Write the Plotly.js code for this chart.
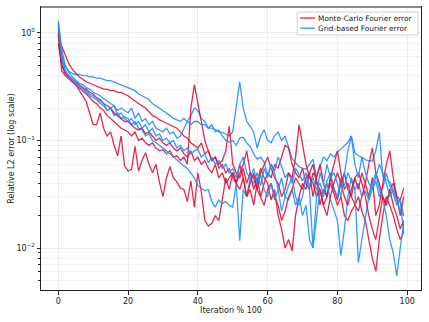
<!DOCTYPE html>
<html>
<head>
<meta charset="utf-8">
<script src="https://cdn.plot.ly/plotly-3.0.1.min.js"></script>
<style>
  html, body { margin: 0; padding: 0; background: #fff; }
  #chart { width: 429px; height: 322px; }
</style>
</head>
<body>
<div id="chart"></div>
<script>
// iteration index (x axis)
const iterations = Array.from({ length: 100 }, (_, i) => i);

// Monte-Carlo Fourier error runs
const mcRun1 = [0.96,0.44,0.40,0.37,0.35,0.33,0.29,0.26,0.23,0.18,
  0.14,0.14,0.18,0.13,0.11,0.12,0.09,0.072,0.11,0.058,
  0.052,0.054,0.088,0.052,0.065,0.077,0.06,0.05,0.06,0.041,
  0.03,0.045,0.057,0.045,0.041,0.036,0.035,0.027,0.042,0.024,
  0.05,0.033,0.018,0.016,0.017,0.02,0.018,0.028,0.045,0.035,
  0.05,0.04,0.06,0.045,0.03,0.035,0.025,0.04,0.055,0.045,
  0.04,0.028,0.035,0.02,0.015,0.01,0.012,0.0094,0.02,0.03,
  0.04,0.035,0.05,0.03,0.045,0.025,0.035,0.03,0.04,0.032,
  0.025,0.03,0.02,0.018,0.022,0.025,0.03,0.022,0.018,0.012,
  0.008,0.0061,0.012,0.02,0.03,0.025,0.02,0.015,0.012,0.014];
const mcRun2 = [0.9,0.75,0.62,0.52,0.46,0.42,0.39,0.37,0.35,0.34,
  0.33,0.32,0.31,0.30,0.30,0.29,0.29,0.28,0.28,0.27,
  0.26,0.245,0.23,0.22,0.21,0.2,0.185,0.17,0.165,0.155,
  0.15,0.145,0.14,0.135,0.13,0.12,0.11,0.105,0.095,0.09,
  0.085,0.095,0.075,0.08,0.065,0.07,0.06,0.065,0.08,0.135,
  0.06,0.05,0.045,0.055,0.04,0.05,0.035,0.045,0.03,0.04,
  0.05,0.045,0.06,0.055,0.07,0.09,0.085,0.06,0.05,0.045,
  0.055,0.04,0.035,0.05,0.045,0.06,0.04,0.03,0.045,0.035,
  0.028,0.04,0.05,0.035,0.03,0.025,0.022,0.03,0.04,0.06,
  0.085,0.05,0.04,0.03,0.025,0.035,0.04,0.03,0.028,0.036];
const mcRun3 = [0.8,0.5,0.42,0.38,0.35,0.33,0.31,0.29,0.27,0.25,
  0.23,0.22,0.2,0.19,0.17,0.16,0.15,0.14,0.13,0.125,
  0.12,0.11,0.12,0.1,0.105,0.095,0.09,0.095,0.085,0.08,
  0.082,0.075,0.08,0.07,0.072,0.065,0.07,0.06,0.2,0.33,
  0.22,0.16,0.1,0.08,0.065,0.07,0.055,0.06,0.05,0.055,
  0.045,0.04,0.05,0.06,0.08,0.05,0.045,0.035,0.05,0.06,
  0.07,0.055,0.045,0.04,0.03,0.035,0.05,0.045,0.07,0.14,
  0.09,0.06,0.045,0.04,0.03,0.035,0.025,0.03,0.045,0.06,
  0.08,0.05,0.035,0.04,0.03,0.045,0.035,0.05,0.04,0.03,
  0.045,0.02,0.025,0.04,0.06,0.08,0.045,0.03,0.02,0.03];
const mcRun4 = [1.0,0.5,0.42,0.39,0.37,0.35,0.33,0.31,0.3,0.28,
  0.27,0.25,0.24,0.22,0.21,0.2,0.18,0.17,0.16,0.15,
  0.15,0.14,0.13,0.125,0.13,0.115,0.12,0.11,0.1,0.105,
  0.095,0.09,0.095,0.085,0.08,0.085,0.075,0.07,0.08,0.065,
  0.07,0.06,0.065,0.055,0.05,0.06,0.045,0.05,0.04,0.045,
  0.05,0.04,0.035,0.045,0.03,0.04,0.05,0.035,0.03,0.025,
  0.035,0.04,0.03,0.025,0.018,0.022,0.03,0.035,0.045,0.04,
  0.035,0.045,0.05,0.06,0.04,0.035,0.025,0.02,0.03,0.04,
  0.05,0.04,0.03,0.025,0.035,0.045,0.05,0.04,0.03,0.02,
  0.015,0.012,0.02,0.03,0.025,0.035,0.025,0.02,0.015,0.018];

// Grid-based Fourier error runs
const gridRun1 = [1.25,0.62,0.48,0.44,0.42,0.41,0.41,0.40,0.40,0.39,
  0.39,0.38,0.38,0.37,0.36,0.36,0.35,0.34,0.33,0.32,
  0.31,0.30,0.29,0.27,0.26,0.25,0.24,0.22,0.21,0.20,
  0.19,0.18,0.17,0.16,0.155,0.15,0.16,0.15,0.14,0.15,
  0.15,0.14,0.14,0.13,0.13,0.126,0.12,0.119,0.115,0.11,
  0.12,0.2,0.35,0.2,0.15,0.135,0.12,0.085,0.11,0.126,
  0.10,0.095,0.11,0.12,0.10,0.11,0.085,0.068,0.062,0.057,
  0.055,0.054,0.06,0.067,0.046,0.058,0.07,0.065,0.075,0.07,
  0.078,0.083,0.09,0.096,0.11,0.077,0.072,0.07,0.066,0.065,
  0.064,0.08,0.119,0.046,0.043,0.041,0.035,0.028,0.027,0.014];
const gridRun2 = [1.3,0.7,0.5,0.43,0.39,0.36,0.34,0.33,0.31,0.30,
  0.28,0.27,0.26,0.245,0.23,0.22,0.21,0.19,0.20,0.19,
  0.18,0.20,0.16,0.18,0.15,0.16,0.14,0.15,0.13,0.125,
  0.12,0.13,0.115,0.12,0.105,0.11,0.13,0.15,0.17,0.20,
  0.19,0.16,0.15,0.13,0.14,0.12,0.125,0.11,0.10,0.096,
  0.10,0.09,0.105,0.107,0.095,0.088,0.075,0.067,0.07,0.063,
  0.047,0.06,0.052,0.07,0.058,0.045,0.05,0.04,0.055,0.048,
  0.042,0.05,0.038,0.045,0.035,0.04,0.032,0.042,0.05,0.036,
  0.03,0.045,0.038,0.05,0.042,0.035,0.04,0.03,0.034,0.028,
  0.035,0.042,0.03,0.036,0.05,0.038,0.032,0.025,0.028,0.02];
const gridRun3 = [1.1,0.55,0.42,0.38,0.36,0.34,0.32,0.30,0.28,0.26,
  0.25,0.24,0.22,0.21,0.19,0.2,0.17,0.18,0.16,0.165,
  0.16,0.14,0.15,0.13,0.125,0.11,0.115,0.10,0.095,0.09,
  0.085,0.08,0.075,0.07,0.066,0.062,0.058,0.055,0.05,0.045,
  0.038,0.036,0.034,0.035,0.027,0.024,0.028,0.026,0.027,0.025,
  0.024,0.04,0.0117,0.035,0.03,0.045,0.04,0.05,0.038,0.055,
  0.045,0.06,0.05,0.035,0.045,0.03,0.028,0.035,0.025,0.03,
  0.02,0.025,0.012,0.01,0.018,0.035,0.03,0.04,0.028,0.022,
  0.018,0.0085,0.015,0.03,0.045,0.035,0.0073,0.012,0.02,0.03,
  0.04,0.05,0.035,0.028,0.02,0.012,0.009,0.0055,0.01,0.017];
const gridRun4 = [1.2,0.6,0.45,0.40,0.37,0.35,0.33,0.31,0.29,0.27,
  0.26,0.25,0.23,0.22,0.19,0.2,0.21,0.17,0.18,0.16,
  0.15,0.16,0.14,0.15,0.13,0.14,0.12,0.13,0.11,0.115,
  0.10,0.105,0.095,0.10,0.085,0.09,0.08,0.085,0.075,0.08,
  0.083,0.07,0.075,0.062,0.07,0.06,0.065,0.055,0.06,0.05,
  0.055,0.045,0.06,0.07,0.05,0.045,0.055,0.04,0.048,0.035,
  0.03,0.04,0.028,0.035,0.022,0.03,0.038,0.045,0.03,0.025,
  0.03,0.045,0.035,0.01,0.03,0.05,0.04,0.06,0.045,0.05,
  0.04,0.03,0.05,0.08,0.11,0.06,0.045,0.07,0.05,0.04,
  0.035,0.045,0.06,0.05,0.04,0.03,0.035,0.028,0.022,0.02];

const mcRuns = [mcRun1, mcRun2, mcRun3, mcRun4];
const gridRuns = [gridRun1, gridRun2, gridRun3, gridRun4];
const seriesNames = ['Monte-Carlo Fourier error', 'Grid-based Fourier error'];

const MC_COLOR = '#DC143C';
const GRID_COLOR = '#1E90FF';
const FONT = 'DejaVu Sans, sans-serif';
const TEXT_COLOR = '#222';

const traces = [];
mcRuns.forEach((run, i) => {
    traces.push({
        type: 'scatter', mode: 'lines', x: iterations, y: run,
        name: seriesNames[0], showlegend: false, opacity: 0.9,
        line: { color: MC_COLOR, width: 1.3 },
    });
    traces.push({
        type: 'scatter', mode: 'lines', x: iterations, y: gridRuns[i],
        name: seriesNames[1], showlegend: false, opacity: 0.9,
        line: { color: GRID_COLOR, width: 1.3 },
    });
});

const minorVals = [];
[0.001, 0.01, 0.1].forEach(d => {
    for (let k = 2; k <= 9; k += 1) minorVals.push(d * k);
});

// compact matplotlib-like legend box (plotly's own legend rows are too tall here)
const legendBox = { x0: 0.674, x1: 0.992, y0: 0.901, y1: 0.982 };
const legendRows = [
    { name: seriesNames[0], color: MC_COLOR, y: 0.961 },
    { name: seriesNames[1], color: GRID_COLOR, y: 0.925 },
];
const legendShapes = [{
    type: 'rect', xref: 'paper', yref: 'paper',
    x0: legendBox.x0, x1: legendBox.x1, y0: legendBox.y0, y1: legendBox.y1,
    fillcolor: 'rgba(255,255,255,0.85)', line: { color: '#d0d0d0', width: 1 },
}];
const legendAnnotations = [];
legendRows.forEach(row => {
    legendShapes.push({
        type: 'line', xref: 'paper', yref: 'paper',
        x0: 0.682, x1: 0.721, y0: row.y, y1: row.y,
        line: { color: row.color, width: 1.6 }, opacity: 0.75,
    });
    legendAnnotations.push({
        xref: 'paper', yref: 'paper', x: 0.726, y: row.y,
        xanchor: 'left', yanchor: 'middle', showarrow: false, borderpad: 0,
        text: row.name, font: { family: FONT, size: 7.4, color: TEXT_COLOR },
    });
});

const layout = {
    width: 429,
    height: 322,
    margin: { l: 41, r: 8, t: 7, b: 32 },
    paper_bgcolor: '#fff',
    plot_bgcolor: '#fff',
    font: { family: FONT, size: 8, color: TEXT_COLOR },
    showlegend: false,
    xaxis: {
        range: [-4.95, 103.95],
        tickvals: [0, 20, 40, 60, 80, 100],
        ticks: 'outside', ticklen: 3.5, tickcolor: TEXT_COLOR,
        showline: true, linecolor: TEXT_COLOR, linewidth: 1, mirror: true,
        showgrid: true, gridcolor: '#ececec', gridwidth: 1,
        zeroline: false,
        tickfont: { family: FONT, size: 8, color: TEXT_COLOR },
        title: { text: 'Iteration % 100', font: { family: FONT, size: 8, color: TEXT_COLOR }, standoff: 1 },
    },
    yaxis: {
        type: 'log',
        range: [-2.39, 0.24],
        tickvals: [0.01, 0.1, 1],
        ticktext: ['10<sup>\u22122</sup>', '10<sup>\u22121</sup>', '10<sup>0</sup>'],
        ticks: 'outside', ticklen: 3.5, tickcolor: TEXT_COLOR,
        showline: true, linecolor: TEXT_COLOR, linewidth: 1, mirror: true,
        showgrid: true, gridcolor: '#ececec', gridwidth: 1,
        zeroline: false,
        minor: {
            tickvals: minorVals, ticks: 'outside', ticklen: 2, tickcolor: TEXT_COLOR,
            showgrid: true, gridcolor: '#f3f3f3', gridwidth: 1,
        },
        tickfont: { family: FONT, size: 8, color: TEXT_COLOR },
        title: { text: 'Relative L2 error (log scale)', font: { family: FONT, size: 8, color: TEXT_COLOR }, standoff: 0 },
    },
    shapes: [{
        type: 'line', xref: 'paper', yref: 'paper', x0: 0, x1: 1, y0: 1, y1: 1,
        line: { color: '#8a8a8a', width: 2 },
    }, ...legendShapes],
    annotations: legendAnnotations,
};

Plotly.newPlot('chart', traces, layout, { staticPlot: true, displayModeBar: false });
</script>
</body>
</html>
